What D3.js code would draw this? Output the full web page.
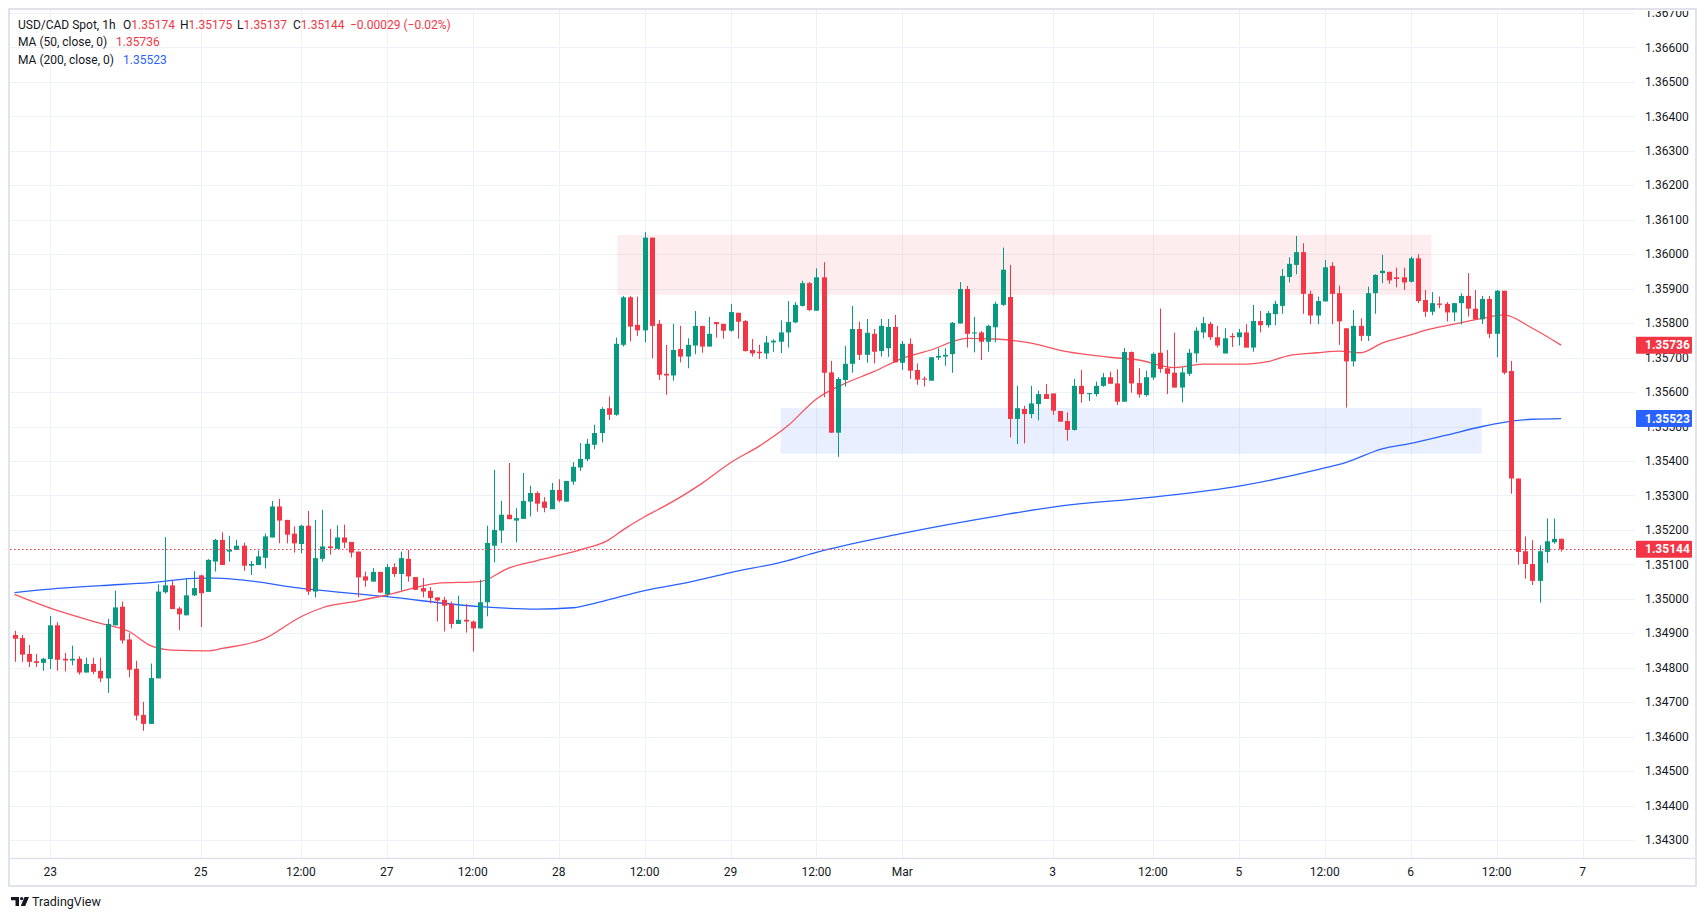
<!DOCTYPE html>
<html>
<head>
<meta charset="utf-8">
<script src="https://cdn.jsdelivr.net/npm/d3@7"></script>
<style>
  html, body { margin: 0; padding: 0; background: #ffffff; }
  svg { display: block; font-family: Roboto, "Noto Sans", sans-serif; }
</style>
</head>
<body>
<div id="chart"></div>
<script>
// USD/CAD 1h candles: [open, high, low, close]
var ohlc = [
  [1.34895,1.34907,1.34817,1.34884],[1.34886,1.34895,1.34817,1.34838],[1.34840,1.34866,1.34802,1.34817],
  [1.34819,1.34840,1.34802,1.34814],[1.34814,1.34829,1.34791,1.34826],[1.34825,1.34950,1.34796,1.34923],
  [1.34923,1.34932,1.34791,1.34823],[1.34826,1.34843,1.34789,1.34821],[1.34821,1.34864,1.34807,1.34826],
  [1.34826,1.34833,1.34780,1.34786],[1.34786,1.34829,1.34786,1.34811],[1.34811,1.34829,1.34781,1.34788],
  [1.34791,1.34829,1.34758,1.34769],[1.34769,1.34942,1.34727,1.34927],[1.34923,1.35024,1.34923,1.34975],
  [1.34977,1.34992,1.34870,1.34879],[1.34882,1.34900,1.34772,1.34794],[1.34797,1.34820,1.34647,1.34661],
  [1.34663,1.34701,1.34617,1.34637],[1.34637,1.34812,1.34637,1.34770],[1.34769,1.35042,1.34769,1.35021],
  [1.35019,1.35179,1.35015,1.35039],[1.35039,1.35052,1.34970,1.34970],[1.34972,1.34977,1.34909,1.34955],
  [1.34952,1.35059,1.34952,1.35010],[1.35010,1.35080,1.35008,1.35031],[1.35068,1.35070,1.34918,1.35016],
  [1.35020,1.35115,1.35020,1.35113],[1.35108,1.35174,1.35079,1.35171],[1.35171,1.35193,1.35098,1.35098],
  [1.35137,1.35183,1.35108,1.35142],[1.35142,1.35171,1.35142,1.35154],[1.35154,1.35163,1.35081,1.35096],
  [1.35096,1.35110,1.35069,1.35101],[1.35098,1.35140,1.35098,1.35123],[1.35119,1.35189,1.35088,1.35181],
  [1.35178,1.35284,1.35178,1.35268],[1.35268,1.35290,1.35161,1.35227],[1.35229,1.35229,1.35161,1.35186],
  [1.35189,1.35210,1.35134,1.35161],[1.35159,1.35215,1.35132,1.35212],[1.35212,1.35255,1.35011,1.35021],
  [1.35021,1.35229,1.35004,1.35118],[1.35116,1.35258,1.35108,1.35152],[1.35152,1.35203,1.35128,1.35147],
  [1.35145,1.35213,1.35145,1.35178],[1.35178,1.35215,1.35147,1.35163],[1.35165,1.35165,1.35120,1.35134],
  [1.35137,1.35137,1.35004,1.35062],[1.35065,1.35079,1.35035,1.35053],[1.35050,1.35089,1.35050,1.35078],
  [1.35078,1.35078,1.35018,1.35018],[1.35013,1.35101,1.35006,1.35092],[1.35092,1.35103,1.35063,1.35072],
  [1.35072,1.35137,1.35024,1.35118],[1.35116,1.35142,1.35050,1.35065],[1.35063,1.35063,1.35026,1.35026],
  [1.35031,1.35060,1.35004,1.35021],[1.35023,1.35034,1.34987,1.35002],[1.35004,1.35004,1.34934,1.34995],
  [1.34997,1.35006,1.34905,1.34980],[1.34985,1.34992,1.34914,1.34927],[1.34927,1.35009,1.34927,1.34939],
  [1.34939,1.34985,1.34902,1.34934],[1.34934,1.34937,1.34847,1.34914],[1.34914,1.35055,1.34914,1.34990],
  [1.34990,1.35212,1.34949,1.35162],[1.35154,1.35374,1.35106,1.35200],[1.35198,1.35284,1.35162,1.35244],
  [1.35244,1.35394,1.35231,1.35231],[1.35227,1.35263,1.35164,1.35234],[1.35232,1.35365,1.35232,1.35284],
  [1.35282,1.35328,1.35239,1.35307],[1.35307,1.35312,1.35253,1.35276],[1.35282,1.35295,1.35251,1.35264],
  [1.35260,1.35336,1.35260,1.35316],[1.35316,1.35347,1.35280,1.35285],[1.35282,1.35342,1.35282,1.35342],
  [1.35340,1.35397,1.35331,1.35383],[1.35381,1.35452,1.35371,1.35406],[1.35405,1.35464,1.35399,1.35450],
  [1.35447,1.35505,1.35434,1.35481],[1.35481,1.35556,1.35454,1.35551],[1.35553,1.35587,1.35519,1.35534],
  [1.35534,1.35758,1.35531,1.35740],[1.35737,1.35879,1.35732,1.35875],[1.35875,1.35879,1.35747,1.35790],
  [1.35795,1.35877,1.35763,1.35779],[1.35779,1.36064,1.35744,1.36048],[1.36048,1.36048,1.35698,1.35792],
  [1.35798,1.35809,1.35635,1.35650],[1.35653,1.35737,1.35592,1.35648],[1.35648,1.35798,1.35633,1.35722],
  [1.35725,1.35792,1.35686,1.35703],[1.35703,1.35756,1.35669,1.35737],[1.35735,1.35835,1.35710,1.35792],
  [1.35792,1.35792,1.35714,1.35732],[1.35732,1.35818,1.35732,1.35769],[1.35803,1.35803,1.35758,1.35797],
  [1.35798,1.35798,1.35755,1.35778],[1.35778,1.35856,1.35775,1.35832],[1.35830,1.35830,1.35755,1.35804],
  [1.35806,1.35809,1.35717,1.35719],[1.35722,1.35754,1.35703,1.35712],[1.35717,1.35737,1.35696,1.35713],
  [1.35712,1.35763,1.35696,1.35744],[1.35744,1.35753,1.35717,1.35749],[1.35746,1.35808,1.35713,1.35773],
  [1.35773,1.35864,1.35729,1.35803],[1.35802,1.35861,1.35800,1.35853],[1.35850,1.35923,1.35848,1.35916],
  [1.35916,1.35919,1.35835,1.35838],[1.35836,1.35959,1.35836,1.35933],[1.35933,1.35977,1.35585,1.35656],
  [1.35657,1.35690,1.35482,1.35482],[1.35482,1.35643,1.35412,1.35638],[1.35635,1.35734,1.35616,1.35682],
  [1.35682,1.35850,1.35656,1.35783],[1.35783,1.35804,1.35693,1.35708],[1.35708,1.35812,1.35685,1.35772],
  [1.35769,1.35783,1.35683,1.35717],[1.35719,1.35812,1.35703,1.35792],[1.35727,1.35812,1.35702,1.35789],
  [1.35789,1.35824,1.35686,1.35686],[1.35685,1.35748,1.35664,1.35740],[1.35740,1.35756,1.35638,1.35662],
  [1.35664,1.35683,1.35621,1.35636],[1.35639,1.35645,1.35616,1.35636],[1.35633,1.35701,1.35633,1.35701],
  [1.35700,1.35727,1.35693,1.35705],[1.35703,1.35727,1.35676,1.35708],[1.35710,1.35803,1.35656,1.35801],
  [1.35799,1.35919,1.35799,1.35899],[1.35899,1.35908,1.35729,1.35769],[1.35770,1.35818,1.35715,1.35773],
  [1.35773,1.35777,1.35693,1.35746],[1.35746,1.35795,1.35717,1.35792],[1.35788,1.35862,1.35744,1.35856],
  [1.35853,1.36019,1.35850,1.35955],[1.35876,1.35969,1.35468,1.35522],[1.35522,1.35618,1.35449,1.35553],
  [1.35551,1.35560,1.35451,1.35536],[1.35536,1.35618,1.35524,1.35567],[1.35565,1.35604,1.35518,1.35594],
  [1.35594,1.35623,1.35580,1.35580],[1.35596,1.35596,1.35534,1.35546],[1.35545,1.35545,1.35514,1.35514],
  [1.35516,1.35541,1.35459,1.35490],[1.35490,1.35638,1.35488,1.35618],[1.35618,1.35664,1.35569,1.35594],
  [1.35594,1.35597,1.35574,1.35597],[1.35594,1.35630,1.35587,1.35618],[1.35618,1.35655,1.35615,1.35643],
  [1.35643,1.35659,1.35624,1.35624],[1.35625,1.35666,1.35562,1.35572],[1.35572,1.35728,1.35572,1.35716],
  [1.35716,1.35718,1.35598,1.35625],[1.35626,1.35669,1.35584,1.35593],[1.35591,1.35662,1.35587,1.35643],
  [1.35642,1.35715,1.35635,1.35711],[1.35714,1.35842,1.35656,1.35667],[1.35669,1.35722,1.35594,1.35653],
  [1.35656,1.35772,1.35613,1.35613],[1.35613,1.35672,1.35570,1.35657],[1.35653,1.35725,1.35647,1.35714],
  [1.35712,1.35788,1.35686,1.35778],[1.35773,1.35818,1.35756,1.35800],[1.35798,1.35804,1.35751,1.35759],
  [1.35759,1.35792,1.35729,1.35735],[1.35712,1.35785,1.35712,1.35756],[1.35763,1.35771,1.35731,1.35759],
  [1.35759,1.35783,1.35735,1.35773],[1.35773,1.35797,1.35729,1.35729],[1.35729,1.35853,1.35717,1.35806],
  [1.35806,1.35835,1.35773,1.35794],[1.35794,1.35835,1.35787,1.35829],[1.35826,1.35865,1.35794,1.35856],
  [1.35850,1.35957,1.35827,1.35937],[1.35934,1.35991,1.35918,1.35972],[1.35969,1.36053,1.35942,1.36006],
  [1.36006,1.36032,1.35827,1.35885],[1.35885,1.35894,1.35797,1.35822],[1.35822,1.35877,1.35797,1.35864],
  [1.35863,1.35983,1.35863,1.35962],[1.35966,1.35977,1.35797,1.35885],[1.35887,1.35909,1.35737,1.35805],
  [1.35785,1.35785,1.35555,1.35689],[1.35689,1.35838,1.35674,1.35792],[1.35792,1.35814,1.35748,1.35763],
  [1.35763,1.35906,1.35748,1.35887],[1.35887,1.35942,1.35827,1.35940],[1.35945,1.35998,1.35916,1.35952],
  [1.35949,1.35949,1.35914,1.35924],[1.35933,1.35961,1.35904,1.35928],[1.35933,1.35961,1.35896,1.35918],
  [1.35920,1.35993,1.35918,1.35988],[1.35988,1.36000,1.35858,1.35864],[1.35867,1.35896,1.35818,1.35833],
  [1.35833,1.35890,1.35823,1.35858],[1.35857,1.35877,1.35843,1.35853],[1.35856,1.35861,1.35805,1.35831],
  [1.35831,1.35858,1.35806,1.35858],[1.35858,1.35887,1.35796,1.35879],[1.35879,1.35945,1.35819,1.35842],
  [1.35842,1.35896,1.35811,1.35811],[1.35811,1.35879,1.35797,1.35870],[1.35870,1.35879,1.35757,1.35769],
  [1.35769,1.35896,1.35701,1.35894],[1.35894,1.35894,1.35651,1.35656],[1.35661,1.35690,1.35305,1.35349],
  [1.35349,1.35349,1.35099,1.35136],[1.35138,1.35181,1.35058,1.35101],[1.35101,1.35170,1.35040,1.35052],
  [1.35052,1.35155,1.34989,1.35138],[1.35136,1.35233,1.35104,1.35167],[1.35164,1.35233,1.35160,1.35174],
  [1.35174,1.35175,1.35137,1.35144]
];

// moving averages, read at bar positions
var ma50Idx = [0,5,12,16,19,22,27,29,35,40,43,48,52,59,65,69,73,79,83,85,88,90,93,96,100,104,108,112,116,120,124,128,133,137,142,147,153,157,162,166,172,175,178,182,185,188,191,195,197,201,205,208,212,216];
var ma50Val = [1.35013,1.34973,1.34929,1.34905,1.34864,1.34851,1.34849,1.34856,1.34885,1.34948,1.34974,1.34994,1.35011,1.35045,1.35050,1.35089,1.35111,1.35142,1.35171,1.35200,1.35238,1.35260,1.35295,1.35335,1.35395,1.35443,1.35502,1.35580,1.35625,1.35659,1.35698,1.35722,1.35756,1.35754,1.35742,1.35717,1.35701,1.35693,1.35671,1.35681,1.35681,1.35688,1.35706,1.35714,1.35719,1.35714,1.35742,1.35766,1.35779,1.35797,1.35814,1.35824,1.35785,1.35736];
var ma200Idx = [0,5,12,19,26,28,41,52,65,73,78,82,88,93,100,108,112,124,138,145,159,171,182,186,191,195,200,205,208,212,216];
var ma200Val = [1.35018,1.35028,1.35038,1.35047,1.35060,1.35060,1.35028,1.35006,1.34977,1.34970,1.34974,1.34992,1.35024,1.35043,1.35076,1.35111,1.35135,1.35190,1.35243,1.35266,1.35295,1.35327,1.35375,1.35396,1.35435,1.35451,1.35475,1.35500,1.35512,1.35521,1.35523];

// highlighted zones: start bar, end bar, top price, bottom price
var zoneStart = [84.2, 107.0];
var zoneEnd = [197.9, 204.9];
var zoneTop = [1.36056, 1.35554];
var zoneBottom = [1.35882, 1.35421];
var zoneColor = ["rgba(242,54,69,0.09)", "rgba(41,98,255,0.10)"];

// time axis
var timeLabels = ["23","25","12:00","27","12:00","28","12:00","29","12:00","Mar","3","12:00","5","12:00","6","12:00","7"];
var timeLabelIdx = [5,26,40,52,64,76,88,100,112,124,145,159,171,183,195,207,219];

var lastClose = 1.35144, ma50Last = 1.35736, ma200Last = 1.35523;

var W = 1706, H = 921;
var pL = 10, pT = 10, pR = 1635, pB = 858, axR = 1695;
var up = "#089981", down = "#F23645";

var svg = d3.select("#chart").append("svg")
  .attr("width", W)
  .attr("height", H);

var x = d3.scaleLinear().domain([0, 1]).range([14.5, 21.66]);
var y = d3.scaleLinear().domain([1.343, 1.367]).range([840, 13]);
var fmt = d3.format(".5f");

var defs = svg.append("defs");
defs.append("clipPath").attr("id", "plotclip")
  .append("rect").attr("x", pL).attr("y", pT).attr("width", pR - pL).attr("height", pB - pT);
defs.append("clipPath").attr("id", "axisclip")
  .append("rect").attr("x", pR).attr("y", pT + 1).attr("width", axR - pR).attr("height", pB - pT);

// grid
var grid = svg.append("g").attr("clip-path", "url(#plotclip)");
var priceTicks = d3.range(1343, 1368).map(d => d / 1000);
grid.selectAll("line.h").data(priceTicks).enter().append("line")
  .attr("x1", pL).attr("x2", pR)
  .attr("y1", d => Math.round(y(d)) + 0.5).attr("y2", d => Math.round(y(d)) + 0.5)
  .attr("stroke", "#eef1f6").attr("stroke-width", 1);
grid.selectAll("line.v").data(timeLabelIdx).enter().append("line")
  .attr("y1", pT).attr("y2", pB)
  .attr("x1", d => Math.round(x(d)) + 0.5).attr("x2", d => Math.round(x(d)) + 0.5)
  .attr("stroke", "#eef1f6").attr("stroke-width", 1);

var plot = svg.append("g").attr("clip-path", "url(#plotclip)");

// zones
plot.selectAll("rect.zone").data(zoneStart).enter().append("rect")
  .attr("x", d => x(d))
  .attr("width", (d, i) => x(zoneEnd[i]) - x(d))
  .attr("y", (d, i) => y(zoneTop[i]))
  .attr("height", (d, i) => y(zoneBottom[i]) - y(zoneTop[i]))
  .attr("fill", (d, i) => zoneColor[i]);

// moving averages
var line = d3.line().curve(d3.curveMonotoneX);
plot.append("path")
  .attr("d", line(ma200Idx.map((d, i) => [x(d), y(ma200Val[i])])))
  .attr("fill", "none").attr("stroke", "#2962FF").attr("stroke-width", 1.3);
plot.append("path")
  .attr("d", line(ma50Idx.map((d, i) => [x(d), y(ma50Val[i])])))
  .attr("fill", "none").attr("stroke", "#F7525F").attr("stroke-width", 1.3);

// candles
var candles = plot.selectAll("g.candle").data(ohlc).enter().append("g")
  .attr("fill", d => d[3] >= d[0] ? up : down)
  .attr("stroke", d => d[3] >= d[0] ? up : down);
candles.append("line")
  .attr("x1", (d, i) => Math.round(x(i)) + 0.5).attr("x2", (d, i) => Math.round(x(i)) + 0.5)
  .attr("y1", d => y(d[1])).attr("y2", d => y(d[2]))
  .attr("stroke-width", 1);
candles.append("rect")
  .attr("stroke", "none")
  .attr("x", (d, i) => Math.round(x(i)) - 2)
  .attr("width", 5)
  .attr("y", d => y(Math.max(d[0], d[3])))
  .attr("height", d => Math.max(1, Math.abs(y(d[0]) - y(d[3]))));

// last price line
plot.append("line")
  .attr("x1", pL).attr("x2", pR)
  .attr("y1", Math.round(y(lastClose)) + 0.5).attr("y2", Math.round(y(lastClose)) + 0.5)
  .attr("stroke", down).attr("stroke-width", 1).attr("stroke-dasharray", "1.5,2.5");

// frame and axis separator
svg.append("line").attr("x1", pL).attr("x2", axR).attr("y1", pB + 0.5).attr("y2", pB + 0.5)
  .attr("stroke", "#e0e3eb").attr("stroke-width", 1.5);
svg.append("rect").attr("x", 9).attr("y", 9).attr("width", 1687).attr("height", 877)
  .attr("fill", "none").attr("stroke", "#e0e3eb").attr("stroke-width", 2);

// price axis
var axisG = svg.append("g").attr("clip-path", "url(#axisclip)");
axisG.selectAll("text").data(priceTicks).enter().append("text")
  .attr("x", 1645).attr("y", d => y(d)).attr("dy", "0.35em")
  .attr("font-size", 12).attr("fill", "#131722")
  .text(d => fmt(d));

var tags = [[ma50Last, "#F23645"], [ma200Last, "#2962FF"], [lastClose, "#F23645"]];
tags.forEach(function(t) {
  axisG.append("rect").attr("x", 1636).attr("y", y(t[0]) - 8.5).attr("width", 56).attr("height", 17)
    .attr("rx", 1).attr("fill", t[1]);
  axisG.append("text").attr("x", 1645).attr("y", y(t[0])).attr("dy", "0.35em")
    .attr("font-size", 12).attr("font-weight", "bold").attr("fill", "#ffffff").text(fmt(t[0]));
});

// time axis
svg.append("g").selectAll("text").data(timeLabelIdx).enter().append("text")
  .attr("x", d => x(d)).attr("y", 872).attr("dy", "0.35em")
  .attr("text-anchor", "middle").attr("font-size", 12).attr("fill", "#131722")
  .text((d, i) => timeLabels[i]);

// legend
var lg = svg.append("g").attr("font-size", 12).attr("fill", "#131722");
var l1 = lg.append("text").attr("x", 18).attr("y", 28.5);
l1.append("tspan").text("USD/CAD Spot, 1h");
[["O", 1.35174, 123], ["H", 1.35175, 180], ["L", 1.35137, 237], ["C", 1.35144, 293]].forEach(function(p) {
  l1.append("tspan").attr("x", p[2]).text(p[0]);
  l1.append("tspan").attr("fill", down).text(fmt(p[1]));
});
l1.append("tspan").attr("x", 350).attr("fill", down).text("\u22120.00029 (\u22120.02%)");
var l2 = lg.append("text").attr("x", 18).attr("y", 46);
l2.append("tspan").text("MA (50, close, 0)");
l2.append("tspan").attr("x", 116).attr("fill", down).text(fmt(ma50Last));
var l3 = lg.append("text").attr("x", 18).attr("y", 63.5);
l3.append("tspan").text("MA (200, close, 0)");
l3.append("tspan").attr("x", 123).attr("fill", "#2962FF").text(fmt(ma200Last));

// TradingView mark
var logo = svg.append("g").attr("transform", "translate(11,897)").attr("fill", "#131722");
logo.append("path").attr("d", "M0,0 H8 V9 H4.5 V3.2 H0 Z");
logo.append("circle").attr("cx", 10.6).attr("cy", 1.6).attr("r", 1.6);
logo.append("path").attr("d", "M13.5,0 H18 L14.2,9 H9.8 Z");
svg.append("text").attr("x", 32).attr("y", 906).attr("font-size", 12.5).attr("fill", "#131722")
  .text("TradingView");
</script>
</body>
</html>
